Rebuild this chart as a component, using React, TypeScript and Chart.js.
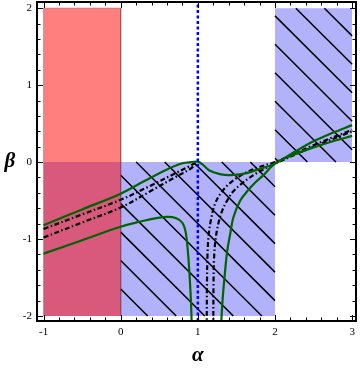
import React, { useEffect, useRef } from "react";
import { Chart, registerables } from "chart.js";

Chart.register(...registerables);

// ---- axis setup ----
const xAxisMin = -1.085;
const xAxisMax = 3.05;
const yAxisMin = -2.065;
const yAxisMax = 2.08;
const tickStep = 0.2;
const xTitle = "α";
const yTitle = "β";

// ---- curves (alpha, beta) ----
const greenUpper: [number, number][] = [
  [-1, -0.82], [-0.5, -0.615], [0, -0.41], [0.3, -0.25], [0.6, -0.095], [0.8, -0.015],
  [0.92, 0.0], [1.0, 0.005], [1.06, -0.03], [1.15, -0.11], [1.3, -0.16], [1.42, -0.17],
  [1.6, -0.15], [1.8, -0.09], [2.0, -0.02], [2.25, 0.13], [2.5, 0.27], [2.75, 0.38], [3.0, 0.48],
];
const greenLowerLeft: [number, number][] = [
  [-1, -1.19], [-0.5, -1.015], [0, -0.84], [0.38, -0.745], [0.6, -0.712], [0.72, -0.73],
  [0.8, -0.79], [0.84, -0.9], [0.865, -1.1], [0.885, -1.35], [0.9, -1.6], [0.912, -1.85], [0.922, -2.15],
];
const greenLowerRight: [number, number][] = [
  [1.3, -2.15], [1.32, -1.8], [1.35, -1.45], [1.38, -1.16], [1.42, -0.93], [1.46, -0.72],
  [1.55, -0.5], [1.64, -0.38], [1.75, -0.26], [1.85, -0.17], [2.0, -0.02], [2.25, 0.1],
  [2.5, 0.19], [2.75, 0.27], [3.0, 0.34],
];
const dashUpperLeft: [number, number][] = [
  [-1, -0.87], [-0.5, -0.68], [0, -0.49], [0.4, -0.3], [0.7, -0.15], [0.9, -0.05], [0.97, -0.01],
];
const dashLowerLeft: [number, number][] = [
  [-1, -0.98], [-0.5, -0.785], [0, -0.59], [0.4, -0.37], [0.7, -0.2], [0.9, -0.09], [0.97, -0.03],
];
const dashUpperRight: [number, number][] = [
  [1.115, -2.15], [1.118, -1.6], [1.125, -1.2], [1.14, -0.95], [1.17, -0.75], [1.22, -0.55],
  [1.3, -0.4], [1.42, -0.27], [1.58, -0.16], [1.78, -0.07], [2.0, 0.0], [2.5, 0.22], [3.0, 0.42],
];
const dashLowerRight: [number, number][] = [
  [1.2, -2.15], [1.203, -1.6], [1.21, -1.25], [1.23, -1.0], [1.27, -0.78], [1.32, -0.62],
  [1.38, -0.5], [1.46, -0.38], [1.58, -0.27], [1.72, -0.17], [1.86, -0.09], [2.0, -0.02],
  [2.5, 0.2], [3.0, 0.4],
];
const poleAlpha = 1;

// ---- regions ----
const redBox = { x: [-1, 0], y: [-2, 2] };
const blueBoxes = [
  { x: [-1, 2], y: [-2, 0] },
  { x: [2, 3], y: [0, 2] },
];
const hatchBoxes = [
  { x: [0, 2], y: [-2, 0] },
  { x: [2, 3], y: [0, 2] },
];
const hatchOffsets = [
  -1.65, -1.28, -0.91, -0.54, -0.17, 0.2, 0.57, 0.94, 1.31, 1.68,
  2.05, 2.42, 2.79, 3.16, 3.53, 3.9, 4.27, 4.64,
];

const GREEN = "rgb(0,100,0)";
const toPts = (a: [number, number][]) => a.map(([x, y]) => ({ x, y }));
const isMajor = (v: number) => Math.abs(v - Math.round(v)) < 1e-6;

function buildDatasets(): any[] {
  const ds: any[] = [];
  ds.push({
    data: [{ x: poleAlpha, y: yAxisMin - 1 }, { x: poleAlpha, y: yAxisMax + 1 }],
    borderColor: "rgb(0,0,255)", borderWidth: 2.5, borderDash: [3, 2.5],
    pointRadius: 0, fill: false, order: 0,
  });
  const curve = (pts: [number, number][], color: string, dash: number[] | undefined) => ({
    data: toPts(pts), borderColor: color, borderWidth: 2.2, borderDash: dash || [],
    tension: 0.35, pointRadius: 0, fill: false, order: 1,
  });
  ds.push(curve(greenUpper, GREEN, undefined));
  ds.push(curve(greenLowerLeft, GREEN, undefined));
  ds.push(curve(greenLowerRight, GREEN, undefined));
  const dd = [5, 2.5, 1.5, 2.5];
  ds.push(curve(dashUpperLeft, "#000", dd));
  ds.push(curve(dashLowerLeft, "#000", dd));
  ds.push(curve(dashUpperRight, "#000", dd));
  ds.push(curve(dashLowerRight, "#000", dd));
  ds.push({
    data: [
      { x: redBox.x[0], y: redBox.y[0] }, { x: redBox.x[0], y: redBox.y[1] },
      { x: redBox.x[1], y: redBox.y[1] }, { x: redBox.x[1], y: redBox.y[0] },
    ],
    borderColor: "rgba(120,50,60,0.45)", borderWidth: 1, backgroundColor: "rgba(255,0,0,0.5)",
    fill: { value: redBox.y[0] }, pointRadius: 0, tension: 0, order: 2,
  });
  for (const b of hatchBoxes) {
    for (const c of hatchOffsets) {
      const lo = Math.max(b.x[0], c - b.y[1]);
      const hi = Math.min(b.x[1], c - b.y[0]);
      if (hi - lo > 1e-6) {
        ds.push({
          data: [{ x: lo, y: c - lo }, { x: hi, y: c - hi }],
          borderColor: "#000", borderWidth: 1.5, pointRadius: 0, fill: false, order: 3,
        });
      }
    }
  }
  for (const b of blueBoxes) {
    ds.push({
      data: [{ x: b.x[0], y: b.y[1] }, { x: b.x[1], y: b.y[1] }],
      borderWidth: 0, borderColor: "rgba(0,0,0,0)", backgroundColor: "rgb(178,178,250)",
      fill: { value: b.y[0] }, pointRadius: 0, order: 4,
    });
  }
  return ds;
}

const framePlugin = {
  id: "mmaFrame",
  afterDraw(chart: any) {
    const { ctx, chartArea: a, scales } = chart;
    const xs = scales.x;
    const ys = scales.y;
    ctx.save();
    ctx.strokeStyle = "#000";
    ctx.lineWidth = 1;
    ctx.beginPath();
    for (const t of xs.ticks) {
      const len = isMajor(t.value) ? 6 : 3.5;
      const px = Math.round(xs.getPixelForValue(t.value)) + 0.5;
      ctx.moveTo(px, a.bottom); ctx.lineTo(px, a.bottom - len);
      ctx.moveTo(px, a.top); ctx.lineTo(px, a.top + len);
    }
    for (const t of ys.ticks) {
      const len = isMajor(t.value) ? 6 : 3.5;
      const py = Math.round(ys.getPixelForValue(t.value)) + 0.5;
      ctx.moveTo(a.left, py); ctx.lineTo(a.left + len, py);
      ctx.moveTo(a.right, py); ctx.lineTo(a.right - len, py);
    }
    ctx.stroke();
    ctx.lineWidth = 2;
    ctx.strokeRect(a.left, a.top, a.right - a.left, a.bottom - a.top);
    ctx.fillStyle = "#000";
    ctx.font = 'bold italic 21px "Liberation Serif", serif';
    ctx.textAlign = "center";
    ctx.textBaseline = "alphabetic";
    ctx.fillText(yTitle, 10, ys.getPixelForValue(0) + 5);
    ctx.fillText(xTitle, xs.getPixelForValue(1), 361);
    ctx.restore();
  },
};

const tickFont = { family: '"Liberation Serif", serif', size: 11 };
const tickLabel = (v: any) => (isMajor(Number(v)) ? String(Math.round(Number(v))) : "");
const noPad = (s: any) => { s.paddingTop = 0; s.paddingBottom = 0; s.paddingLeft = 0; s.paddingRight = 0; };

export default function App() {
  const ref = useRef<HTMLCanvasElement>(null);
  useEffect(() => {
    const canvas = ref.current!;
    const chart = new Chart(canvas, {
      type: "line",
      data: { datasets: buildDatasets() },
      options: {
        responsive: false,
        devicePixelRatio: 1,
        animation: false,
        layout: { padding: { left: 0, right: 4, top: 2, bottom: 0 } },
        plugins: { legend: { display: false }, tooltip: { enabled: false } },
        elements: { point: { radius: 0 } },
        scales: {
          x: {
            type: "linear", min: xAxisMin, max: xAxisMax,
            afterFit: (s: any) => { s.height = 49; noPad(s); },
            grid: { display: false, drawTicks: false },
            border: { display: false },
            ticks: {
              stepSize: tickStep, autoSkip: false, includeBounds: false, maxRotation: 0,
              padding: 5, color: "#000", font: tickFont, callback: tickLabel,
            },
          },
          y: {
            type: "linear", min: yAxisMin, max: yAxisMax,
            afterFit: (s: any) => { s.width = 37; noPad(s); },
            grid: { display: false, drawTicks: false },
            border: { display: false },
            ticks: {
              stepSize: tickStep, autoSkip: false, includeBounds: false,
              padding: 5, color: "#000", font: tickFont, callback: tickLabel,
            },
          },
        },
      } as any,
      plugins: [framePlugin],
    });
    return () => chart.destroy();
  }, []);
  return (
    <div style={{ position: "fixed", left: 0, top: 0, width: 360, height: 370, background: "#fff" }}>
      <canvas ref={ref} width={360} height={370} style={{ width: 360, height: 370, display: "block" }} />
    </div>
  );
}
